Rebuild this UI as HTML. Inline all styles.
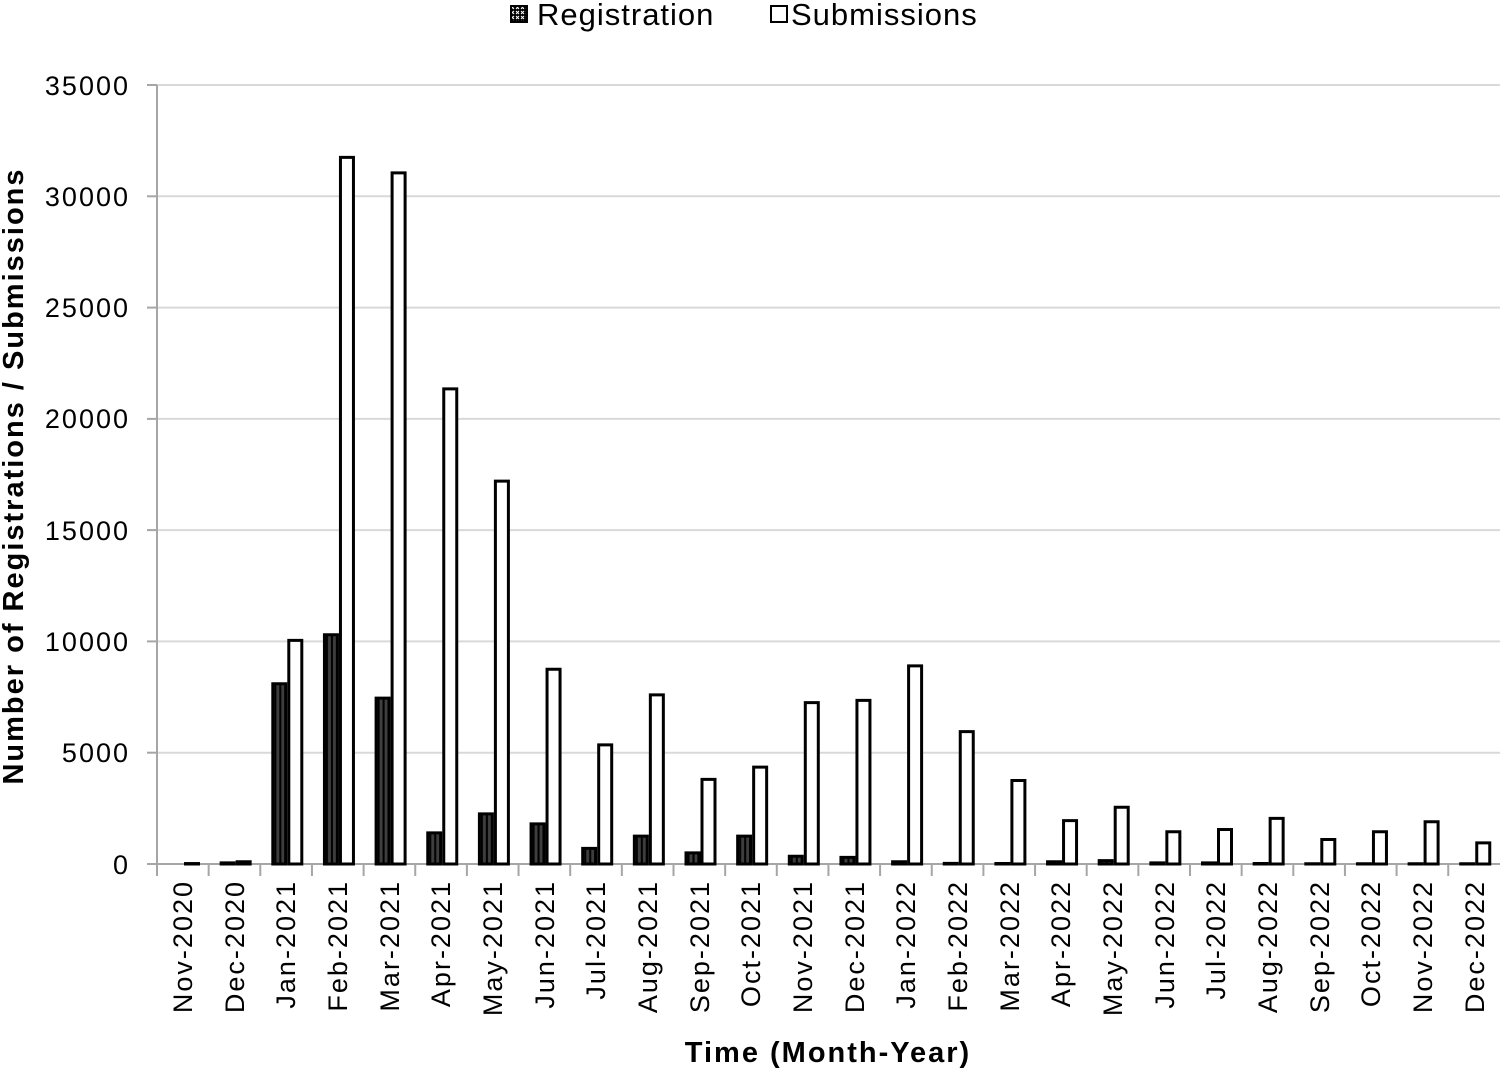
<!DOCTYPE html>
<html><head><meta charset="utf-8"><style>body{margin:0;background:#fff}svg{display:block}text{font-family:"Liberation Sans",sans-serif}</style></head><body>
<svg width="1501" height="1069" xmlns="http://www.w3.org/2000/svg">
<defs><pattern id="ck" width="5" height="5" patternUnits="userSpaceOnUse"><rect width="5" height="5" fill="#000"/><path d="M1 1L4 4M4 1L1 4" stroke="#fff" stroke-width="1"/></pattern></defs>
<g stroke="#d9d9d9" stroke-width="2">
<line x1="157" x2="1500" y1="85" y2="85"/><line x1="157" x2="1500" y1="196.3" y2="196.3"/><line x1="157" x2="1500" y1="307.6" y2="307.6"/><line x1="157" x2="1500" y1="418.9" y2="418.9"/><line x1="157" x2="1500" y1="530.1" y2="530.1"/><line x1="157" x2="1500" y1="641.4" y2="641.4"/><line x1="157" x2="1500" y1="752.7" y2="752.7"/>
</g>
<g stroke="#a6a6a6" stroke-width="2">
<line x1="157" x2="157" y1="85" y2="876"/><line x1="147" x2="1500" y1="864" y2="864"/>
<line x1="147" x2="157" y1="85" y2="85"/><line x1="147" x2="157" y1="196.3" y2="196.3"/><line x1="147" x2="157" y1="307.6" y2="307.6"/><line x1="147" x2="157" y1="418.9" y2="418.9"/><line x1="147" x2="157" y1="530.1" y2="530.1"/><line x1="147" x2="157" y1="641.4" y2="641.4"/><line x1="147" x2="157" y1="752.7" y2="752.7"/>
<line x1="208.65" x2="208.65" y1="864" y2="876"/><line x1="260.3" x2="260.3" y1="864" y2="876"/><line x1="311.95" x2="311.95" y1="864" y2="876"/><line x1="363.6" x2="363.6" y1="864" y2="876"/><line x1="415.25" x2="415.25" y1="864" y2="876"/><line x1="466.9" x2="466.9" y1="864" y2="876"/><line x1="518.55" x2="518.55" y1="864" y2="876"/><line x1="570.2" x2="570.2" y1="864" y2="876"/><line x1="621.85" x2="621.85" y1="864" y2="876"/><line x1="673.5" x2="673.5" y1="864" y2="876"/><line x1="725.15" x2="725.15" y1="864" y2="876"/><line x1="776.8" x2="776.8" y1="864" y2="876"/><line x1="828.45" x2="828.45" y1="864" y2="876"/><line x1="880.1" x2="880.1" y1="864" y2="876"/><line x1="931.75" x2="931.75" y1="864" y2="876"/><line x1="983.4" x2="983.4" y1="864" y2="876"/><line x1="1035.05" x2="1035.05" y1="864" y2="876"/><line x1="1086.7" x2="1086.7" y1="864" y2="876"/><line x1="1138.35" x2="1138.35" y1="864" y2="876"/><line x1="1190" x2="1190" y1="864" y2="876"/><line x1="1241.65" x2="1241.65" y1="864" y2="876"/><line x1="1293.3" x2="1293.3" y1="864" y2="876"/><line x1="1344.95" x2="1344.95" y1="864" y2="876"/><line x1="1396.6" x2="1396.6" y1="864" y2="876"/><line x1="1448.25" x2="1448.25" y1="864" y2="876"/>
</g>
<g font-size="27" letter-spacing="2" text-anchor="end" fill="#000">
<text x="130" y="95">35000</text><text x="130" y="206">30000</text><text x="130" y="317">25000</text><text x="130" y="428">20000</text><text x="130" y="540">15000</text><text x="130" y="651">10000</text><text x="130" y="762">5000</text><text x="130" y="874">0</text>
</g>
<text transform="translate(23,476) rotate(-90)" text-anchor="middle" font-size="29" letter-spacing="2" font-weight="bold">Number of Registrations / Submissions</text>
<text x="828" y="1062" text-anchor="middle" font-size="29" letter-spacing="2" font-weight="bold">Time (Month-Year)</text>
<rect x="511" y="6" width="16" height="16" fill="url(#ck)" stroke="#000" stroke-width="2"/>
<text x="537" y="25" font-size="31" letter-spacing="1">Registration</text>
<rect x="771" y="6" width="16" height="16" fill="#fff" stroke="#000" stroke-width="2"/>
<text x="791" y="25" font-size="31" letter-spacing="1">Submissions</text>
<g stroke="#000" stroke-width="3">
<g transform="translate(157,864) scale(1,-0.022257)"><rect x="12.5" width="13" height="0" fill="url(#ck)" vector-effect="non-scaling-stroke"/><rect x="28.5" width="13" height="20" fill="#fff" vector-effect="non-scaling-stroke"/></g>
<g transform="translate(208.65,864) scale(1,-0.022257)"><rect x="12.5" width="13" height="50" fill="url(#ck)" vector-effect="non-scaling-stroke"/><rect x="28.5" width="13" height="100" fill="#fff" vector-effect="non-scaling-stroke"/></g>
<g transform="translate(260.3,864) scale(1,-0.022257)"><rect x="12.5" width="13" height="8100" fill="url(#ck)" vector-effect="non-scaling-stroke"/><rect x="28.5" width="13" height="10050" fill="#fff" vector-effect="non-scaling-stroke"/></g>
<g transform="translate(311.95,864) scale(1,-0.022257)"><rect x="12.5" width="13" height="10300" fill="url(#ck)" vector-effect="non-scaling-stroke"/><rect x="28.5" width="13" height="31750" fill="#fff" vector-effect="non-scaling-stroke"/></g>
<g transform="translate(363.6,864) scale(1,-0.022257)"><rect x="12.5" width="13" height="7450" fill="url(#ck)" vector-effect="non-scaling-stroke"/><rect x="28.5" width="13" height="31050" fill="#fff" vector-effect="non-scaling-stroke"/></g>
<g transform="translate(415.25,864) scale(1,-0.022257)"><rect x="12.5" width="13" height="1400" fill="url(#ck)" vector-effect="non-scaling-stroke"/><rect x="28.5" width="13" height="21350" fill="#fff" vector-effect="non-scaling-stroke"/></g>
<g transform="translate(466.9,864) scale(1,-0.022257)"><rect x="12.5" width="13" height="2250" fill="url(#ck)" vector-effect="non-scaling-stroke"/><rect x="28.5" width="13" height="17200" fill="#fff" vector-effect="non-scaling-stroke"/></g>
<g transform="translate(518.55,864) scale(1,-0.022257)"><rect x="12.5" width="13" height="1800" fill="url(#ck)" vector-effect="non-scaling-stroke"/><rect x="28.5" width="13" height="8750" fill="#fff" vector-effect="non-scaling-stroke"/></g>
<g transform="translate(570.2,864) scale(1,-0.022257)"><rect x="12.5" width="13" height="700" fill="url(#ck)" vector-effect="non-scaling-stroke"/><rect x="28.5" width="13" height="5350" fill="#fff" vector-effect="non-scaling-stroke"/></g>
<g transform="translate(621.85,864) scale(1,-0.022257)"><rect x="12.5" width="13" height="1250" fill="url(#ck)" vector-effect="non-scaling-stroke"/><rect x="28.5" width="13" height="7600" fill="#fff" vector-effect="non-scaling-stroke"/></g>
<g transform="translate(673.5,864) scale(1,-0.022257)"><rect x="12.5" width="13" height="500" fill="url(#ck)" vector-effect="non-scaling-stroke"/><rect x="28.5" width="13" height="3800" fill="#fff" vector-effect="non-scaling-stroke"/></g>
<g transform="translate(725.15,864) scale(1,-0.022257)"><rect x="12.5" width="13" height="1250" fill="url(#ck)" vector-effect="non-scaling-stroke"/><rect x="28.5" width="13" height="4350" fill="#fff" vector-effect="non-scaling-stroke"/></g>
<g transform="translate(776.8,864) scale(1,-0.022257)"><rect x="12.5" width="13" height="350" fill="url(#ck)" vector-effect="non-scaling-stroke"/><rect x="28.5" width="13" height="7250" fill="#fff" vector-effect="non-scaling-stroke"/></g>
<g transform="translate(828.45,864) scale(1,-0.022257)"><rect x="12.5" width="13" height="300" fill="url(#ck)" vector-effect="non-scaling-stroke"/><rect x="28.5" width="13" height="7350" fill="#fff" vector-effect="non-scaling-stroke"/></g>
<g transform="translate(880.1,864) scale(1,-0.022257)"><rect x="12.5" width="13" height="100" fill="url(#ck)" vector-effect="non-scaling-stroke"/><rect x="28.5" width="13" height="8900" fill="#fff" vector-effect="non-scaling-stroke"/></g>
<g transform="translate(931.75,864) scale(1,-0.022257)"><rect x="12.5" width="13" height="30" fill="url(#ck)" vector-effect="non-scaling-stroke"/><rect x="28.5" width="13" height="5950" fill="#fff" vector-effect="non-scaling-stroke"/></g>
<g transform="translate(983.4,864) scale(1,-0.022257)"><rect x="12.5" width="13" height="20" fill="url(#ck)" vector-effect="non-scaling-stroke"/><rect x="28.5" width="13" height="3750" fill="#fff" vector-effect="non-scaling-stroke"/></g>
<g transform="translate(1035.05,864) scale(1,-0.022257)"><rect x="12.5" width="13" height="100" fill="url(#ck)" vector-effect="non-scaling-stroke"/><rect x="28.5" width="13" height="1950" fill="#fff" vector-effect="non-scaling-stroke"/></g>
<g transform="translate(1086.7,864) scale(1,-0.022257)"><rect x="12.5" width="13" height="150" fill="url(#ck)" vector-effect="non-scaling-stroke"/><rect x="28.5" width="13" height="2550" fill="#fff" vector-effect="non-scaling-stroke"/></g>
<g transform="translate(1138.35,864) scale(1,-0.022257)"><rect x="12.5" width="13" height="50" fill="url(#ck)" vector-effect="non-scaling-stroke"/><rect x="28.5" width="13" height="1450" fill="#fff" vector-effect="non-scaling-stroke"/></g>
<g transform="translate(1190,864) scale(1,-0.022257)"><rect x="12.5" width="13" height="50" fill="url(#ck)" vector-effect="non-scaling-stroke"/><rect x="28.5" width="13" height="1550" fill="#fff" vector-effect="non-scaling-stroke"/></g>
<g transform="translate(1241.65,864) scale(1,-0.022257)"><rect x="12.5" width="13" height="20" fill="url(#ck)" vector-effect="non-scaling-stroke"/><rect x="28.5" width="13" height="2050" fill="#fff" vector-effect="non-scaling-stroke"/></g>
<g transform="translate(1293.3,864) scale(1,-0.022257)"><rect x="12.5" width="13" height="10" fill="url(#ck)" vector-effect="non-scaling-stroke"/><rect x="28.5" width="13" height="1100" fill="#fff" vector-effect="non-scaling-stroke"/></g>
<g transform="translate(1344.95,864) scale(1,-0.022257)"><rect x="12.5" width="13" height="10" fill="url(#ck)" vector-effect="non-scaling-stroke"/><rect x="28.5" width="13" height="1450" fill="#fff" vector-effect="non-scaling-stroke"/></g>
<g transform="translate(1396.6,864) scale(1,-0.022257)"><rect x="12.5" width="13" height="10" fill="url(#ck)" vector-effect="non-scaling-stroke"/><rect x="28.5" width="13" height="1900" fill="#fff" vector-effect="non-scaling-stroke"/></g>
<g transform="translate(1448.25,864) scale(1,-0.022257)"><rect x="12.5" width="13" height="10" fill="url(#ck)" vector-effect="non-scaling-stroke"/><rect x="28.5" width="13" height="950" fill="#fff" vector-effect="non-scaling-stroke"/></g>
</g>
<g font-size="27" letter-spacing="2" text-anchor="end">
<text transform="translate(192,880) rotate(-90)">Nov-2020</text>
<text transform="translate(244,880) rotate(-90)">Dec-2020</text>
<text transform="translate(295,880) rotate(-90)">Jan-2021</text>
<text transform="translate(347,880) rotate(-90)">Feb-2021</text>
<text transform="translate(399,880) rotate(-90)">Mar-2021</text>
<text transform="translate(450,880) rotate(-90)">Apr-2021</text>
<text transform="translate(502,880) rotate(-90)">May-2021</text>
<text transform="translate(554,880) rotate(-90)">Jun-2021</text>
<text transform="translate(605,880) rotate(-90)">Jul-2021</text>
<text transform="translate(657,880) rotate(-90)">Aug-2021</text>
<text transform="translate(709,880) rotate(-90)">Sep-2021</text>
<text transform="translate(760,880) rotate(-90)">Oct-2021</text>
<text transform="translate(812,880) rotate(-90)">Nov-2021</text>
<text transform="translate(864,880) rotate(-90)">Dec-2021</text>
<text transform="translate(915,880) rotate(-90)">Jan-2022</text>
<text transform="translate(967,880) rotate(-90)">Feb-2022</text>
<text transform="translate(1019,880) rotate(-90)">Mar-2022</text>
<text transform="translate(1070,880) rotate(-90)">Apr-2022</text>
<text transform="translate(1122,880) rotate(-90)">May-2022</text>
<text transform="translate(1174,880) rotate(-90)">Jun-2022</text>
<text transform="translate(1225,880) rotate(-90)">Jul-2022</text>
<text transform="translate(1277,880) rotate(-90)">Aug-2022</text>
<text transform="translate(1329,880) rotate(-90)">Sep-2022</text>
<text transform="translate(1380,880) rotate(-90)">Oct-2022</text>
<text transform="translate(1432,880) rotate(-90)">Nov-2022</text>
<text transform="translate(1484,880) rotate(-90)">Dec-2022</text>
</g>
</svg>
</body></html>
